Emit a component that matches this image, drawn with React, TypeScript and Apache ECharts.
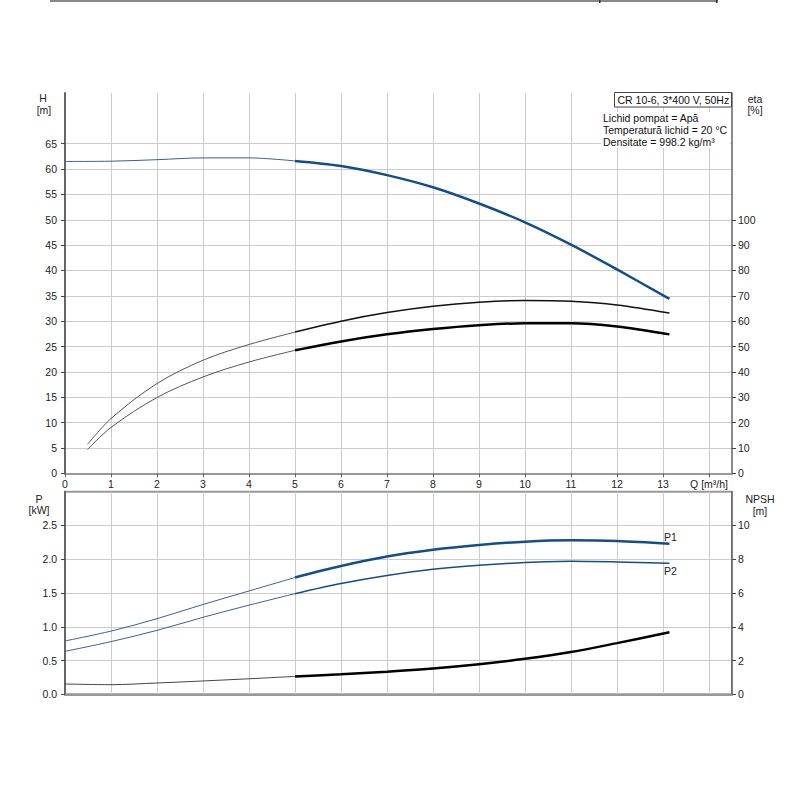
import React, { useEffect, useRef } from "react";
import * as echarts from "echarts";

const qH = [0, 1, 2, 3, 4, 5, 6, 7, 8, 9, 10, 11, 12, 13.14];
const head = [61.5, 61.55, 61.85, 62.2, 62.2, 61.6, 60.6, 58.8, 56.4, 53.2, 49.5, 45.1, 40.2, 34.4];

const qEta = [0.49, 1, 2, 3, 4, 5, 6, 7, 8, 9, 10, 11, 12, 13.14];
const etaUpper = [11.4, 21.6, 35.4, 44.6, 50.8, 55.7, 60.0, 63.4, 65.9, 67.5, 68.2, 67.9, 66.4, 63.2];
const etaLower = [9.4, 18.1, 29.9, 38.0, 43.9, 48.5, 52.0, 54.8, 56.9, 58.4, 59.2, 59.2, 57.9, 54.8];

const qP = [0, 1, 2, 3, 4, 5, 6, 7, 8, 9, 10, 11, 12, 13.14];
const p1 = [0.79, 0.936, 1.12, 1.33, 1.53, 1.73, 1.9, 2.04, 2.14, 2.21, 2.26, 2.28, 2.27, 2.23];
const p2 = [0.636, 0.78, 0.947, 1.14, 1.32, 1.49, 1.64, 1.76, 1.85, 1.91, 1.95, 1.97, 1.96, 1.94];
const npsh = [0.61, 0.57, 0.67, 0.79, 0.92, 1.06, 1.19, 1.34, 1.53, 1.78, 2.1, 2.5, 3.03, 3.67];

const hTicks = [0, 5, 10, 15, 20, 25, 30, 35, 40, 45, 50, 55, 60, 65];
const etaTicks = [0, 10, 20, 30, 40, 50, 60, 70, 80, 90, 100];
const pTicks = [0, 0.5, 1, 1.5, 2, 2.5];
const npshTicks = [0, 2, 4, 6, 8, 10];
const qTicks = [0, 1, 2, 3, 4, 5, 6, 7, 8, 9, 10, 11, 12, 13, 14];

const infoTitle = "CR 10-6, 3*400 V, 50Hz";
const infoLines = ["Lichid pompat = Apă", "Temperatură lichid = 20 °C", "Densitate = 998.2 kg/m³"];

const SPLIT_Q = 5;
const FAMILY = "'Liberation Sans', Arial, sans-serif";
const FONT = "10.5px " + FAMILY;
const BLUE = "#134e8c";
const SMOOTH = 0.33;

function pairs(xs: number[], ys: number[], part: "thin" | "thick") {
  const out: number[][] = [];
  xs.forEach((x, i) => {
    if (part === "thin" ? x <= SPLIT_Q : x >= SPLIT_Q) out.push([x, ys[i]]);
  });
  return out;
}

function curve(
  name: string,
  xs: number[],
  ys: number[],
  xi: number,
  yi: number,
  thinColor: string,
  thickColor: string,
  thickWidth: number
) {
  return [
    {
      name: name + "-thin",
      type: "line",
      xAxisIndex: xi,
      yAxisIndex: yi,
      data: pairs(xs, ys, "thin"),
      smooth: SMOOTH,
      symbol: "none",
      lineStyle: { color: thinColor, width: 1 },
      z: 5,
    },
    {
      name: name + "-thick",
      type: "line",
      xAxisIndex: xi,
      yAxisIndex: yi,
      data: pairs(xs, ys, "thick"),
      smooth: SMOOTH,
      symbol: "none",
      lineStyle: { color: thickColor, width: thickWidth },
      z: 6,
    },
  ];
}

export default function App() {
  const ref = useRef<HTMLDivElement>(null);

  useEffect(() => {
    if (!ref.current) return;
    const chart = echarts.init(ref.current, null, { renderer: "svg" });
    const labelStyle = { color: "#222", fontSize: 10.5, fontFamily: FAMILY };
    const gridColor = "#cccccc";
    const topSplitColors: string[] = [];
    for (let i = 0; i < 15; i++) topSplitColors.push(gridColor);
    topSplitColors.push("rgba(0,0,0,0)");

    const option: any = {
      animation: false,
      backgroundColor: "#fff",
      grid: [
        { left: 65, right: 68, top: 93, height: 380.3, containLabel: false },
        { left: 65, right: 68, top: 491.7, height: 202.6, containLabel: false, show: true, borderColor: "#999", borderWidth: 2 },
      ],
      xAxis: [
        {
          type: "value",
          gridIndex: 0,
          min: 0,
          max: 14.5,
          interval: 1,
          axisLine: { show: true, onZero: false, lineStyle: { color: "#999", width: 2 } },
          axisTick: { show: true, length: 4, customValues: qTicks, lineStyle: { color: "#666" } },
          axisLabel: {
            ...labelStyle,
            margin: 5,
            customValues: qTicks,
            formatter: (v: number) => (v === 14 ? "Q [m³/h]" : String(v)),
          },
          splitLine: { show: true, lineStyle: { color: gridColor, width: 1 } },
        },
        {
          type: "value",
          gridIndex: 1,
          min: 0,
          max: 14.5,
          interval: 1,
          axisLine: { show: true, onZero: false, lineStyle: { color: "#999", width: 2 } },
          axisTick: { show: false },
          axisLabel: { show: false },
          splitLine: { show: true, lineStyle: { color: gridColor, width: 1 } },
        },
      ],
      yAxis: [
        {
          type: "value",
          gridIndex: 0,
          min: 0,
          max: 75,
          interval: 5,
          position: "left",
          axisLine: { show: true, lineStyle: { color: "#666", width: 2 } },
          axisTick: { show: true, length: 4, customValues: hTicks, lineStyle: { color: "#444" } },
          axisLabel: { ...labelStyle, margin: 8, customValues: hTicks, formatter: (v: number) => String(v) },
          splitLine: { show: true, lineStyle: { color: topSplitColors, width: 1 } },
        },
        {
          type: "value",
          gridIndex: 0,
          min: 0,
          max: 150,
          interval: 10,
          position: "right",
          axisLine: { show: true, lineStyle: { color: "#666", width: 1.5 } },
          axisTick: { show: true, length: 4, customValues: etaTicks, lineStyle: { color: "#444" } },
          axisLabel: { ...labelStyle, margin: 6, customValues: etaTicks, formatter: (v: number) => String(v) },
          splitLine: { show: false },
        },
        {
          type: "value",
          gridIndex: 1,
          min: 0,
          max: 3,
          interval: 0.5,
          position: "left",
          axisLine: { show: true, lineStyle: { color: "#666", width: 2 } },
          axisTick: { show: true, length: 4, customValues: pTicks, lineStyle: { color: "#444" } },
          axisLabel: { ...labelStyle, margin: 8, customValues: pTicks, formatter: (v: number) => v.toFixed(1) },
          splitLine: { show: true, lineStyle: { color: gridColor, width: 1 } },
        },
        {
          type: "value",
          gridIndex: 1,
          min: 0,
          max: 12,
          interval: 2,
          position: "right",
          axisLine: { show: true, lineStyle: { color: "#666", width: 1.5 } },
          axisTick: { show: true, length: 4, customValues: npshTicks, lineStyle: { color: "#444" } },
          axisLabel: { ...labelStyle, margin: 6, customValues: npshTicks, formatter: (v: number) => String(v) },
          splitLine: { show: false },
        },
      ],
      series: [
        ...curve("H", qH, head, 0, 0, "#3f5f8a", BLUE, 2.5),
        ...curve("etaUpper", qEta, etaUpper, 0, 1, "#555", "#111", 1.5),
        ...curve("etaLower", qEta, etaLower, 0, 1, "#555", "#000", 2.5),
        ...curve("P1", qP, p1, 1, 2, "#3f5f8a", BLUE, 2.5),
        ...curve("P2", qP, p2, 1, 2, "#3f5f8a", BLUE, 1.5),
        ...curve("NPSH", qP, npsh, 1, 3, "#444", "#000", 2.5),
      ],
      graphic: [
        { type: "rect", shape: { x: 50, y: 0, width: 668, height: 2 }, style: { fill: "#888" } },
        { type: "rect", shape: { x: 599, y: 0, width: 1.5, height: 3 }, style: { fill: "#333" } },
        { type: "rect", shape: { x: 716, y: 0, width: 1.5, height: 3 }, style: { fill: "#333" } },
        { type: "text", style: { text: "H", x: 43, y: 98, fill: "#222", font: FONT, textAlign: "center", textVerticalAlign: "middle" } },
        { type: "text", style: { text: "[m]", x: 44, y: 110, fill: "#222", font: FONT, textAlign: "center", textVerticalAlign: "middle" } },
        { type: "text", style: { text: "eta", x: 755, y: 99, fill: "#222", font: FONT, textAlign: "center", textVerticalAlign: "middle" } },
        { type: "text", style: { text: "[%]", x: 755, y: 110, fill: "#222", font: FONT, textAlign: "center", textVerticalAlign: "middle" } },
        { type: "text", style: { text: "P", x: 39, y: 499, fill: "#222", font: FONT, textAlign: "center", textVerticalAlign: "middle" } },
        { type: "text", style: { text: "[kW]", x: 39, y: 510, fill: "#222", font: FONT, textAlign: "center", textVerticalAlign: "middle" } },
        { type: "text", style: { text: "NPSH", x: 760, y: 499, fill: "#222", font: FONT, textAlign: "center", textVerticalAlign: "middle" } },
        { type: "text", style: { text: "[m]", x: 760, y: 511, fill: "#222", font: FONT, textAlign: "center", textVerticalAlign: "middle" } },
        { type: "rect", z: 20, shape: { x: 614.5, y: 92.5, width: 117, height: 14.5 }, style: { fill: "#fff", stroke: "#444", lineWidth: 1 } },
        { type: "text", z: 21, style: { text: infoTitle, x: 617.5, y: 100, fill: "#111", font: FONT, textAlign: "left", textVerticalAlign: "middle" } },
        { type: "rect", z: 20, shape: { x: 601, y: 112, width: 129, height: 36 }, style: { fill: "#fff" } },
        ...infoLines.map((t, i) => ({
          type: "text",
          z: 21,
          style: { text: t, x: 603, y: 118.3 + i * 12, fill: "#111", font: FONT, textAlign: "left", textVerticalAlign: "middle" },
        })),
        { type: "text", z: 21, style: { text: "P1", x: 664, y: 537, fill: "#222", font: FONT, textAlign: "left", textVerticalAlign: "middle" } },
        { type: "text", z: 21, style: { text: "P2", x: 664, y: 571, fill: "#222", font: FONT, textAlign: "left", textVerticalAlign: "middle" } },
      ],
    };
    chart.setOption(option);
    return () => chart.dispose();
  }, []);

  return <div ref={ref} style={{ position: "fixed", left: 0, top: 0, width: 800, height: 800, background: "#fff" }} />;
}
